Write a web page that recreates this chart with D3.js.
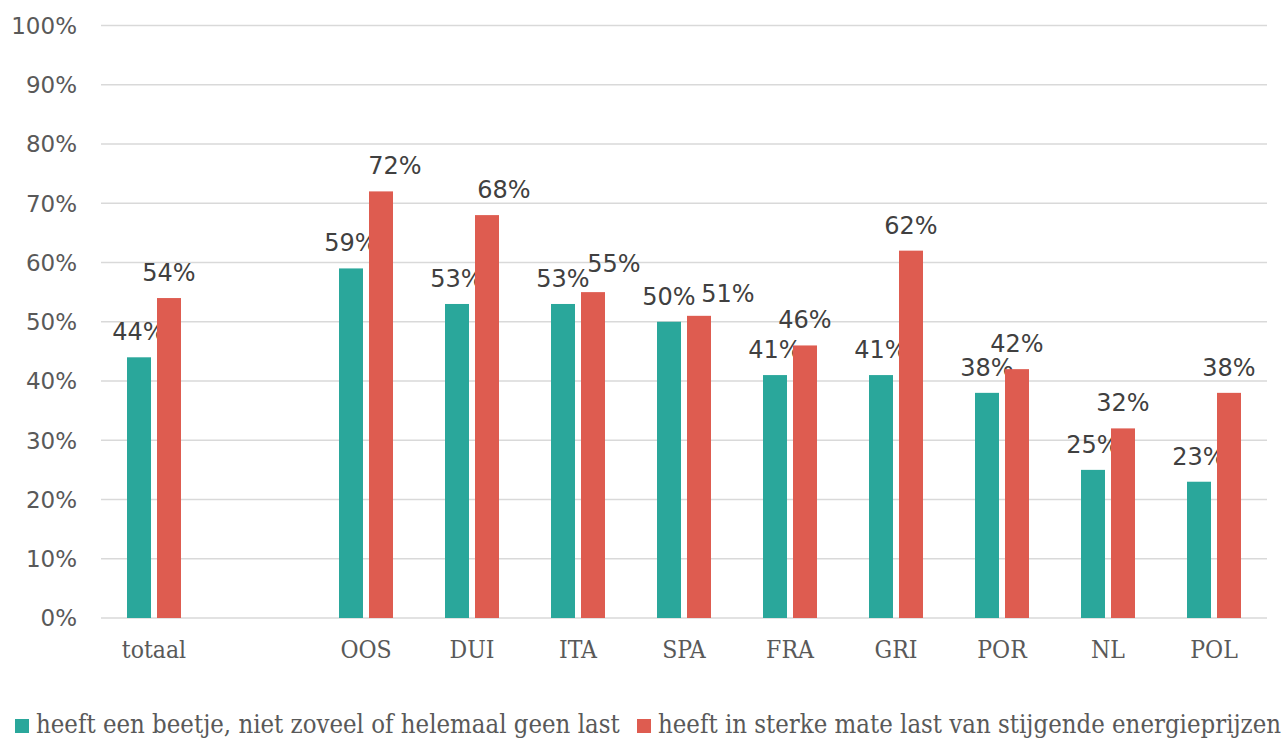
<!DOCTYPE html>
<html>
<head>
<meta charset="utf-8">
<script src="https://cdn.jsdelivr.net/npm/d3@7"></script>
<style>
  html, body { margin: 0; padding: 0; background: #fff; }
  svg { display: block; }
  .serif { font-family: "DejaVu Serif Condensed", "DejaVu Serif", serif; font-stretch: condensed; }
  .sans { font-family: "DejaVu Sans", sans-serif; }
</style>
</head>
<body>
<svg id="chart" width="1288" height="738"></svg>
<script>
const categories = ["totaal", "", "OOS", "DUI", "ITA", "SPA", "FRA", "GRI", "POR", "NL", "POL"];
const seriesNames = [
  "heeft een beetje, niet zoveel of helemaal geen last",
  "heeft in sterke mate last van stijgende energieprijzen"
];
const seriesColors = ["#2aa79b", "#de5c50"];
const valuesLow  = [44, null, 59, 53, 53, 50, 41, 41, 38, 25, 23];
const valuesHigh = [54, null, 72, 68, 55, 51, 46, 62, 42, 32, 38];
const yTicks = [0, 10, 20, 30, 40, 50, 60, 70, 80, 90, 100];

// layout: manual nudges of a few data labels (as in the reference)
const labelNudgeHigh = { 2: [14, 0], 3: [17, 0], 4: [21, -3], 5: [29, 3] };

const svg = d3.select("#chart");
const plot = { left: 101, right: 1267, top: 25.5, bottom: 618 };

const x = d3.scaleBand().domain(categories.map((c, i) => i)).range([plot.left, plot.right]).padding(0);
const y = d3.scaleLinear().domain([0, 100]).range([plot.bottom, plot.top]);

const barW = 24, gap = 6;
const offsets = [-(gap / 2) - barW, gap / 2];

// gridlines
svg.append("g").selectAll("line").data(yTicks).join("line")
  .attr("x1", plot.left).attr("x2", plot.right)
  .attr("y1", d => y(d)).attr("y2", d => y(d))
  .attr("stroke", "#d9d9d9").attr("stroke-width", 1.5);

// y tick labels
svg.append("g").selectAll("text").data(yTicks).join("text")
  .attr("class", "sans")
  .attr("x", 77).attr("y", d => y(d))
  .attr("dy", "0.36em")
  .attr("text-anchor", "end")
  .attr("font-size", 23)
  .attr("fill", "#595959")
  .text(d => d + "%");

// bars & labels
const series = [valuesLow, valuesHigh];
series.forEach((vals, s) => {
  const data = vals.map((v, i) => ({ i, v })).filter(d => d.v != null);
  svg.append("g").selectAll("rect").data(data).join("rect")
    .attr("x", d => x(d.i) + x.bandwidth() / 2 + offsets[s])
    .attr("width", barW)
    .attr("y", d => y(d.v))
    .attr("height", d => y(0) - y(d.v))
    .attr("fill", seriesColors[s]);
  svg.append("g").selectAll("text").data(data).join("text")
    .attr("class", "sans")
    .attr("x", d => x(d.i) + x.bandwidth() / 2 + offsets[s] + barW / 2 + (s === 1 && labelNudgeHigh[d.i] ? labelNudgeHigh[d.i][0] : 0))
    .attr("y", d => y(d.v) - 17 + (s === 1 && labelNudgeHigh[d.i] ? labelNudgeHigh[d.i][1] : 0))
    .attr("text-anchor", "middle")
    .attr("font-size", 24)
    .attr("fill", "#404040")
    .text(d => d.v + "%");
});

// category labels
svg.append("g").selectAll("text").data(categories.map((c, i) => ({ c, i }))).join("text")
  .attr("class", "serif")
  .attr("x", d => x(d.i) + x.bandwidth() / 2)
  .attr("y", 658)
  .attr("text-anchor", "middle")
  .attr("font-size", 24.5)
  .attr("fill", "#595959")
  .text(d => d.c);

// legend
const legendX = [15, 637];
seriesNames.forEach((name, s) => {
  const g = svg.append("g");
  g.append("rect").attr("x", legendX[s]).attr("y", 719).attr("width", 14).attr("height", 14)
    .attr("fill", seriesColors[s]);
  g.append("text").attr("class", "serif")
    .attr("x", legendX[s] + 21).attr("y", 733)
    .attr("font-size", 25.5)
    .attr("fill", "#595959")
    .text(name);
});
</script>
</body>
</html>
